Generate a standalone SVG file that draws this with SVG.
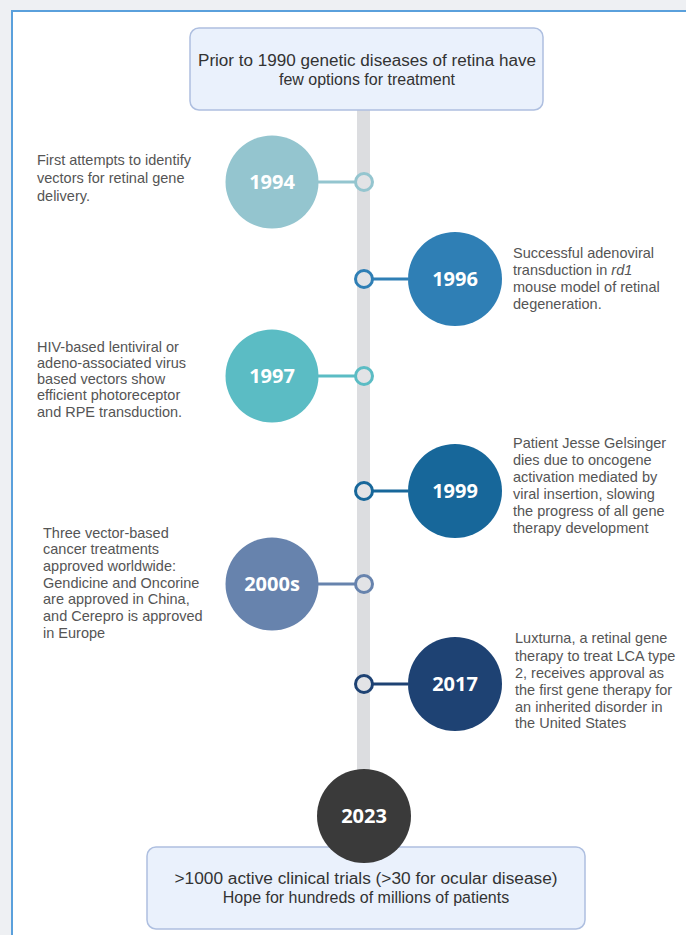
<svg xmlns="http://www.w3.org/2000/svg" width="686" height="935" viewBox="0 0 686 935">
<style>
.box{fill:#eaf1fc;stroke:#aebfe0;stroke-width:1.5}
.btxt{font-family:"Liberation Sans",Arial,sans-serif;font-size:16px;fill:#333;text-anchor:middle}
.desc{font-family:"Liberation Sans",Arial,sans-serif;font-size:14.5px;fill:#555}
.yr{font-family:"Open Sans","Liberation Sans",sans-serif;font-size:20px;font-weight:bold;fill:#fff;text-anchor:middle}
.dot{fill:#e2e3e6;stroke-width:3}
.lnk{stroke-width:3;fill:none}
</style>
<rect width="686" height="935" fill="#eef0f3"/>
<rect x="12" y="11" width="680" height="930" fill="#fff" stroke="#5aa0dc" stroke-width="2"/>
<rect x="357" y="108" width="13" height="700" fill="#dcdde0"/>
<g id="top">
<rect class="box" x="190" y="28" width="353" height="82" rx="9"/>
<text class="btxt" x="367" y="66" textLength="338" lengthAdjust="spacingAndGlyphs">Prior to 1990 genetic diseases of retina have</text>
<text class="btxt" x="367" y="85">few options for treatment</text>
</g>
<g id="connectors">
<line class="lnk" x1="315" y1="182" x2="355" y2="182" stroke="#94c5cf"/>
<circle class="dot" cx="364" cy="182" r="8.5" stroke="#94c5cf"/>
<line class="lnk" x1="373" y1="279" x2="408" y2="279" stroke="#2f7fb5"/>
<circle class="dot" cx="364" cy="279" r="8.5" stroke="#2f7fb5"/>
<line class="lnk" x1="315" y1="376" x2="355" y2="376" stroke="#5bbcc4"/>
<circle class="dot" cx="364" cy="376" r="8.5" stroke="#5bbcc4"/>
<line class="lnk" x1="373" y1="491" x2="408" y2="491" stroke="#17679a"/>
<circle class="dot" cx="364" cy="491" r="8.5" stroke="#17679a"/>
<line class="lnk" x1="315" y1="584" x2="355" y2="584" stroke="#6783ad"/>
<circle class="dot" cx="364" cy="584" r="8.5" stroke="#6783ad"/>
<line class="lnk" x1="373" y1="684" x2="408" y2="684" stroke="#1e4273"/>
<circle class="dot" cx="364" cy="684" r="8.5" stroke="#1e4273"/>
</g>
<g id="y1994">
<circle cx="272" cy="182" r="46.5" fill="#94c5cf"/>
<text class="yr" x="272" y="189">1994</text>
<text class="desc" x="37" y="165">First attempts to identify</text>
<text class="desc" x="37" y="183">vectors for retinal gene</text>
<text class="desc" x="37" y="201">delivery.</text>
</g>
<g id="y1996">
<circle cx="455" cy="279" r="47" fill="#2f7fb5"/>
<text class="yr" x="455" y="286">1996</text>
<text class="desc" x="513" y="258">Successful adenoviral</text>
<text class="desc" x="513" y="275">transduction in <tspan font-style="italic">rd1</tspan></text>
<text class="desc" x="513" y="292">mouse model of retinal</text>
<text class="desc" x="513" y="309">degeneration.</text>
</g>
<g id="y1997">
<circle cx="272" cy="376" r="46.5" fill="#5bbcc4"/>
<text class="yr" x="272" y="383">1997</text>
<text class="desc" x="37" y="352">HIV-based lentiviral or</text>
<text class="desc" x="37" y="368">adeno-associated virus</text>
<text class="desc" x="37" y="384">based vectors show</text>
<text class="desc" x="37" y="400">efficient photoreceptor</text>
<text class="desc" x="37" y="417">and RPE transduction.</text>
</g>
<g id="y1999">
<circle cx="455" cy="491" r="47" fill="#17679a"/>
<text class="yr" x="455" y="498">1999</text>
<text class="desc" x="513" y="448">Patient Jesse Gelsinger</text>
<text class="desc" x="513" y="465">dies due to oncogene</text>
<text class="desc" x="513" y="482">activation mediated by</text>
<text class="desc" x="513" y="499">viral insertion, slowing</text>
<text class="desc" x="513" y="516">the progress of all gene</text>
<text class="desc" x="513" y="533">therapy development</text>
</g>
<g id="y2000s">
<circle cx="272" cy="584" r="46.5" fill="#6783ad"/>
<text class="yr" x="272" y="591">2000s</text>
<text class="desc" x="43" y="538">Three vector-based</text>
<text class="desc" x="43" y="554">cancer treatments</text>
<text class="desc" x="43" y="571">approved worldwide:</text>
<text class="desc" x="43" y="588">Gendicine and Oncorine</text>
<text class="desc" x="43" y="604">are approved in China,</text>
<text class="desc" x="43" y="621">and Cerepro is approved</text>
<text class="desc" x="43" y="638">in Europe</text>
</g>
<g id="y2017">
<circle cx="455" cy="684" r="47" fill="#1e4273"/>
<text class="yr" x="455" y="691">2017</text>
<text class="desc" x="515" y="643">Luxturna, a retinal gene</text>
<text class="desc" x="515" y="661">therapy to treat LCA type</text>
<text class="desc" x="515" y="678">2, receives approval as</text>
<text class="desc" x="515" y="695">the first gene therapy for</text>
<text class="desc" x="515" y="712">an inherited disorder in</text>
<text class="desc" x="515" y="728">the United States</text>
</g>
<g id="bottom">
<rect class="box" x="147" y="847" width="438" height="82" rx="9"/>
<text class="btxt" x="366" y="884" font-size="17" textLength="383" lengthAdjust="spacingAndGlyphs">&gt;1000 active clinical trials (&gt;30 for ocular disease)</text>
<text class="btxt" x="366" y="903" font-size="17">Hope for hundreds of millions of patients</text>
</g>
<g id="y2023">
<circle cx="364" cy="816" r="47" fill="#3a3a3a"/>
<text class="yr" x="364" y="823">2023</text>
</g>
</svg>
